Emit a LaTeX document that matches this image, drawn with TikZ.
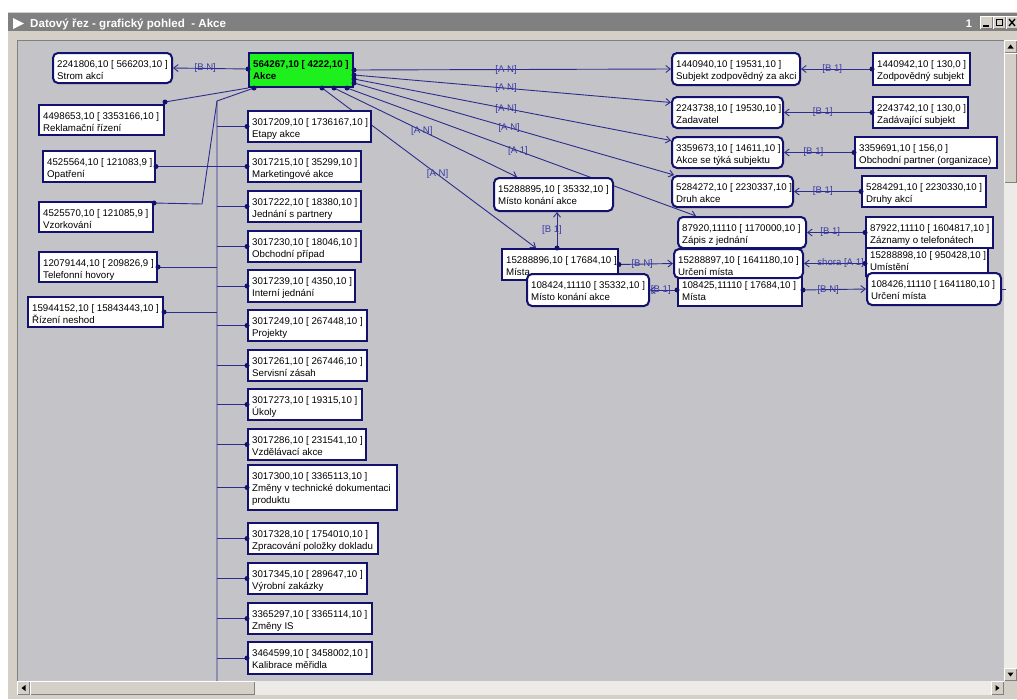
\documentclass[tikz,border=0pt]{standalone}
\usepackage{fontspec}
\setmainfont{Liberation Sans}
\usetikzlibrary{arrows.meta}

\definecolor{navy}{HTML}{12126E}
\definecolor{wirec}{HTML}{2C2C8C}
\definecolor{labelc}{HTML}{3A3AA6}
\definecolor{canvasc}{HTML}{C4C3C8}
\definecolor{framec}{HTML}{D4D0C8}
\definecolor{titlec}{HTML}{808080}
\definecolor{akcec}{HTML}{1EF01E}
\definecolor{trackc}{HTML}{ECEBE8}
\definecolor{shadowc}{HTML}{808080}

\pgfdeclarelayer{chrome}
\pgfdeclarelayer{wires}
\pgfdeclarelayer{dots}
\pgfsetlayers{chrome,wires,main,dots}

\tikzset{
  ebox/.style={draw=navy, line width=2pt, fill=white, inner sep=0pt},
  rbox/.style={ebox, rounded corners=5pt},
  gbox/.style={ebox, fill=akcec},
  etext/.style={inner sep=0pt, align=left, font=\fontsize{9.7}{12}\selectfont, text=black, anchor=north west},
  wire/.style={draw=wirec, line width=0.9pt},
  arr/.style={wire, -{Straight Barb[length=4.5pt,width=7pt]}},
  lab/.style={inner sep=0pt, font=\fontsize{9.6}{12}\selectfont, text=labelc},
  jdot/.style={fill=navy},
}

% entity box: name, style, x1, y1, x2, y2, text (pixel grid, y downwards)
\newcommand{\entbox}[7]{%
  \node[#2, minimum width={(#5-#3)*1pt}, minimum height={(#6-#4)*1pt}] (#1) at ({(#3+#5)/2},{(#4+#6)/2}) {};
  \node[etext] (#1-t) at ({#3+4},{#4+7}) {#7};
}
% junction dot
\newcommand{\jd}[1]{\fill[jdot] (#1) circle[radius=2.5pt];}
% raised Windows button
\newcommand{\winbtn}[4]{%
  \fill[framec] (#1,#2) rectangle (#3,#4);
  \draw[white, line width=1pt] (#1+0.5,#4-0.5) -- (#1+0.5,#2+0.5) -- (#3-0.5,#2+0.5);
  \draw[shadowc, line width=1pt] (#1+0.5,#4-0.5) -- (#3-0.5,#4-0.5) -- (#3-0.5,#2+0.5);
}

\begin{document}
\begin{tikzpicture}[x=1pt, y=-1pt]
\useasboundingbox (0,0) rectangle (1017,699);

% ---------------- window chrome ----------------
\begin{pgfonlayer}{chrome}
  \fill[white] (0,0) rectangle (1017,699);
  \fill[framec] (8,12) rectangle (1017,699);
  \fill[titlec] (8,13) rectangle (1017,31);
  \fill[white] (13,18) -- (24,23.5) -- (13,29) -- cycle;
  \node[font=\bfseries\fontsize{11.6}{13}\selectfont, text=white, anchor=base west, inner sep=0pt]
    (title) at (30,27) {Datový řez - grafický pohled\ \ - Akce};
  \node[font=\bfseries\fontsize{11}{13}\selectfont, text=white, anchor=base, inner sep=0pt]
    (winno) at (969,27) {1};
  \winbtn{980}{16}{993}{29}
  \fill[black] (983,25) rectangle (989,27);
  \winbtn{993}{16}{1006}{29}
  \draw[black, line width=1pt] (996.5,19.5) rectangle (1002.5,25.5);
  \draw[black, line width=1.5pt] (996,19.5) -- (1003,19.5);
  \winbtn{1006}{16}{1019}{29}
  \draw[black, line width=1.3pt] (1009,19) -- (1015,26) (1009,26) -- (1015,19);

  \fill[canvasc] (17,40) rectangle (1004,681);
  \draw[shadowc, line width=1pt] (17.5,681) -- (17.5,40.5) -- (1004,40.5);

  % vertical scroll bar
  \fill[trackc] (1004,40) rectangle (1017,681);
  \winbtn{1004}{40}{1017}{53}
  \fill[black] (1010.5,44.5) -- (1013.5,48.5) -- (1007.5,48.5) -- cycle;
  \winbtn{1004}{53}{1017}{183}
  \winbtn{1004}{668}{1017}{681}
  \fill[black] (1010.5,676.5) -- (1013.5,672.5) -- (1007.5,672.5) -- cycle;
  % horizontal scroll bar
  \fill[trackc] (17,681) rectangle (1004,695);
  \winbtn{17}{681}{30}{695}
  \fill[black] (21.5,688) -- (25.5,685) -- (25.5,691) -- cycle;
  \winbtn{30}{681}{255}{695}
  \winbtn{991}{681}{1004}{695}
  \fill[black] (999.5,688) -- (995.5,685) -- (995.5,691) -- cycle;
  \fill[framec] (1004,681) rectangle (1017,695);
\end{pgfonlayer}

% ---------------- entities ----------------
\entbox{strom}{rbox}{53}{53}{172}{83}{2241806,10 [ 566203,10 ]\\Strom akcí}
\entbox{akce}{gbox}{249}{53}{353}{87}{\textbf{564267,10 [ 4222,10 ]}\\\textbf{Akce}}
\entbox{rekl}{ebox}{39}{105}{164}{135}{4498653,10 [ 3353166,10 ]\\Reklamační řízení}
\entbox{opat}{ebox}{43}{151}{155}{182}{4525564,10 [ 121083,9 ]\\Opatření}
\entbox{vzor}{ebox}{39}{202}{153}{232}{4525570,10 [ 121085,9 ]\\Vzorkování}
\entbox{tel}{ebox}{39}{252}{157}{282}{12079144,10 [ 209826,9 ]\\Telefonní hovory}
\entbox{rizeni}{ebox}{28}{297}{163}{327}{15944152,10 [ 15843443,10 ]\\Řízení neshod}

\entbox{etapy}{ebox}{248}{111}{371}{142}{3017209,10 [ 1736167,10 ]\\Etapy akce}
\entbox{market}{ebox}{248}{151}{361}{182}{3017215,10 [ 35299,10 ]\\Marketingové akce}
\entbox{jedn}{ebox}{248}{191}{361}{222}{3017222,10 [ 18380,10 ]\\Jednání s partnery}
\entbox{obchp}{ebox}{248}{231}{361}{262}{3017230,10 [ 18046,10 ]\\Obchodní případ}
\entbox{intern}{ebox}{248}{270}{355}{302}{3017239,10 [ 4350,10 ]\\Interní jednání}
\entbox{proj}{ebox}{248}{310}{367}{341}{3017249,10 [ 267448,10 ]\\Projekty}
\entbox{serv}{ebox}{248}{350}{367}{381}{3017261,10 [ 267446,10 ]\\Servisní zásah}
\entbox{ukoly}{ebox}{248}{389}{362}{420}{3017273,10 [ 19315,10 ]\\Úkoly}
\entbox{vzdel}{ebox}{248}{429}{366}{460}{3017286,10 [ 231541,10 ]\\Vzdělávací akce}
\entbox{zmenytd}{ebox}{248}{465}{397}{510}{3017300,10 [ 3365113,10 ]\\Změny v technické dokumentaci\\produktu}
\entbox{zprac}{ebox}{248}{523}{378}{554}{3017328,10 [ 1754010,10 ]\\Zpracování položky dokladu}
\entbox{vyrob}{ebox}{248}{563}{367}{594}{3017345,10 [ 289647,10 ]\\Výrobní zakázky}
\entbox{zmenyis}{ebox}{248}{603}{372}{634}{3365297,10 [ 3365114,10 ]\\Změny IS}
\entbox{kalib}{ebox}{248}{642}{372}{674}{3464599,10 [ 3458002,10 ]\\Kalibrace měřidla}

\entbox{subj}{rbox}{672}{53}{800}{85}{1440940,10 [ 19531,10 ]\\Subjekt zodpovědný za akci}
\entbox{zodp}{ebox}{873}{53}{970}{85}{1440942,10 [ 130,0 ]\\Zodpovědný subjekt}
\entbox{zad}{rbox}{672}{97}{783}{128}{2243738,10 [ 19530,10 ]\\Zadavatel}
\entbox{zadsub}{ebox}{873}{97}{968}{128}{2243742,10 [ 130,0 ]\\Zadávající subjekt}
\entbox{akcesub}{rbox}{672}{137}{783}{168}{3359673,10 [ 14611,10 ]\\Akce se týká subjektu}
\entbox{obch}{ebox}{855}{137}{997}{168}{3359691,10 [ 156,0 ]\\Obchodní partner (organizace)}
\entbox{druh}{rbox}{672}{176}{793}{207}{5284272,10 [ 2230337,10 ]\\Druh akce}
\entbox{druhy}{ebox}{862}{176}{986}{207}{5284291,10 [ 2230330,10 ]\\Druhy akcí}

\entbox{misto1}{rbox}{494}{178}{613}{211}{15288895,10 [ 35332,10 ]\\Místo konání akce}
\entbox{zapis}{rbox}{678}{217}{806}{248}{87920,11110 [ 1170000,10 ]\\Zápis z jednání}
\entbox{umist}{ebox}{866}{244}{988}{276}{15288898,10 [ 950428,10 ]\\Umístění}
\entbox{zazn}{ebox}{866}{217}{993}{248}{87922,11110 [ 1604817,10 ]\\Záznamy o telefonátech}
\entbox{mista1}{ebox}{502}{249}{618}{280}{15288896,10 [ 17684,10 ]\\Místa}
\entbox{mista2}{ebox}{678}{274}{802}{306}{108425,11110 [ 17684,10 ]\\Místa}
\entbox{urc1}{rbox}{674}{249}{803}{278}{15288897,10 [ 1641180,10 ]\\Určení místa}
\entbox{misto2}{rbox}{527}{274}{649}{306}{108424,11110 [ 35332,10 ]\\Místo konání akce}
\entbox{urc2}{rbox}{867}{273}{1001}{305}{108426,11110 [ 1641180,10 ]\\Určení místa}

% ---------------- connectors ----------------
\begin{pgfonlayer}{wires}
  % Akce -> Strom akcí
  \coordinate (ws) at ([yshift=1pt]akce.west);
  \draw[arr] (ws) -- node[lab,pos=0.57] (ls) {[B N]} (strom.east);
  % Reklamační řízení -> Akce
  \coordinate (wr) at ([yshift=2pt]rekl.north east);
  \draw[wire] (wr) -- (akce.south west);
  % vertical bus below Akce
  \coordinate (bustop) at (217,101);
  \coordinate (busend) at (217,681);
  \coordinate (wb) at ([xshift=6pt]akce.south west);
  \draw[wire] (wb) -- (bustop) -- (busend);
  \foreach \n in {etapy,market,jedn,obchp,intern,proj,serv,ukoly,vzdel,zmenytd,zprac,vyrob,zmenyis,kalib}
    \draw[wire] (\n.west -| bustop) -- (\n.west);
  % entities left of the bus
  \draw[wire] (opat.east) -- (market.west);
  \coordinate (wv) at ([yshift=-2pt]vzor.north east);
  \coordinate (vzbend) at (202,204);
  \draw[wire] (wv) -- (vzbend) -- (bustop);
  \draw[wire] (tel.east) -- (tel.east -| bustop);
  \draw[wire] (rizeni.east) -- (rizeni.east -| bustop);

  % fan-out from Akce
  \coordinate (a1) at (akce.east);
  \coordinate (a2) at ([yshift=-5pt]akce.east);
  \coordinate (a3) at ([yshift=-9pt]akce.east);
  \coordinate (a4) at ([yshift=-13pt]akce.east);
  \coordinate (a5) at ([xshift=-7pt]akce.south east);
  \coordinate (a6) at ([xshift=-20pt]akce.south east);
  \coordinate (a7) at ([xshift=-32pt]akce.south east);
  \draw[arr] (a1) -- node[lab,pos=0.48] (l1) {[A N]} (subj.west);
  \draw[arr] (a2) -- node[lab,pos=0.48] (l2) {[A N]} ([yshift=10pt]zad.west);
  \draw[arr] (a3) -- node[lab,pos=0.48] (l3) {[A N]} ([yshift=12pt]akcesub.west);
  \draw[arr] (a4) -- node[lab,pos=0.485] (l4) {[A N]} ([xshift=3pt]druh.north west);
  \draw[arr] (a5) -- node[lab,pos=0.49] (l5) {[A 1]} ([xshift=19pt]zapis.north west);
  \draw[arr] (a6) -- node[lab,pos=0.48] (l6) {[A N]} ([xshift=24pt]misto1.north west);
  \draw[arr] (a7) -- node[lab,pos=0.54] (l7) {[A N]} ([xshift=35pt]mista1.north west);

  % right-hand pairs
  \draw[arr] (zodp.west) -- node[lab,pos=0.56] (l8) {[B 1]} (subj.east);
  \draw[arr] (zadsub.west) -- node[lab,pos=0.56] (l9) {[B 1]} (zad.east);
  \draw[arr] (obch.west) -- node[lab,pos=0.58] (l10) {[B 1]} (akcesub.east);
  \draw[arr] (druhy.west) -- node[lab,pos=0.57] (l11) {[B 1]} (druh.east);
  \draw[arr] (zazn.west) -- node[lab,pos=0.6] (l12) {[B 1]} (zapis.east);
  \coordinate (wu) at (umist.west |- urc1.east);
  \draw[arr] (wu) -- node[lab,pos=0.4] (l13) {shora [A 1]} (urc1.east);
  \draw[arr] (mista1.east) -- node[lab,pos=0.43] (l14) {[B N]} (urc1.west);
  \coordinate (m1top) at ([xshift=-3pt]mista1.north);
  \draw[arr] (m1top) -- node[lab,pos=0.5,xshift=-5pt] (l15) {[B 1]} (m1top |- misto1.south);
  \draw[arr] (mista2.west) -- node[lab,pos=0.6] (l16) {[B 1]} (misto2.east);
  \draw[arr] (mista2.east) -- node[lab,pos=0.4] (l17) {[B N]} (urc2.west);
  \coordinate (stub) at (1006,289);
  \draw[wire] (urc2.east) -- (stub);
\end{pgfonlayer}

% ---------------- junction dots ----------------
\begin{pgfonlayer}{dots}
  \jd{ws} \jd{wr} \jd{wb} \jd{wv}
  \jd{opat.east} \jd{tel.east} \jd{rizeni.east}
  \foreach \n in {etapy,market,jedn,obchp,intern,proj,serv,ukoly,vzdel,zmenytd,zprac,vyrob,zmenyis,kalib}
    {\jd{\n.west}}
  \jd{a1} \jd{a2} \jd{a3} \jd{a4} \jd{a5} \jd{a6} \jd{a7}
  \jd{zodp.west} \jd{zadsub.west} \jd{obch.west} \jd{druhy.west} \jd{zazn.west} \jd{wu}
  \jd{mista1.east} \jd{m1top} \jd{mista2.west} \jd{mista2.east}
\end{pgfonlayer}
\end{tikzpicture}
\end{document}
